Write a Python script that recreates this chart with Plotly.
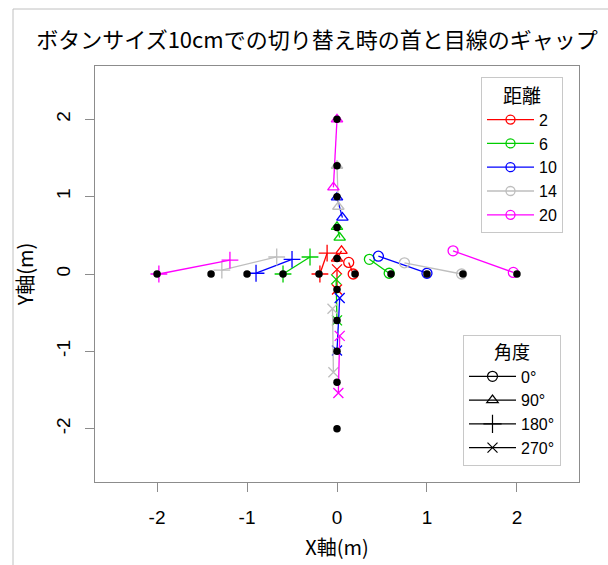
import plotly.graph_objects as go

# ---- data ----
distances = ["2", "6", "10", "14", "20"]
angles = ["0°", "90°", "180°", "270°"]
colors = ["#FF0000", "#00CD00", "#0000FF", "#BEBEBE", "#FF00FF"]
symbols = ["circle-open", "triangle-up-open", "cross-thin-open", "x-thin-open"]

# point A (neck) per distance, ordered by angle 0/90/180/270
a_x = [[0.18, 0.00, -0.19, 0.00],
       [0.58, 0.00, -0.60, 0.00],
       [1.00, 0.00, -0.90, 0.00],
       [1.385, 0.00, -1.28, -0.04],
       [1.96, 0.00, -1.98, 0.015]]
a_y = [[0.00, 0.20, 0.00, -0.20],
       [0.01, 0.61, 0.00, -0.60],
       [0.01, 0.99, 0.01, -0.99],
       [0.00, 1.40, 0.05, -1.27],
       [0.02, 2.00, 0.00, -1.54]]
# point B (gaze)
b_x = [[0.13, 0.05, -0.11, 0.00],
       [0.36, 0.03, -0.30, -0.01],
       [0.46, 0.06, -0.50, 0.03],
       [0.75, 0.015, -0.67, -0.05],
       [1.29, -0.04, -1.19, 0.03]]
b_y = [[0.15, 0.30, 0.27, 0.06],
       [0.19, 0.47, 0.22, -0.07],
       [0.23, 0.73, 0.19, -0.31],
       [0.145, 0.87, 0.22, -0.45],
       [0.30, 1.12, 0.18, -0.80]]

target_x = [-2, -1.4, -1, -0.6, -0.2, 0.2, 0.6, 1, 1.4, 2,
            0, 0, 0, 0, 0, 0, 0, 0, 0, 0]
target_y = [0, 0, 0, 0, 0, 0, 0, 0, 0, 0,
            2, 1.4, 1, 0.6, 0.2, -0.2, -0.6, -1, -1.4, -2]

ticks = [-2, -1, 0, 1, 2]
tick_labels = ["-2", "-1", "0", "1", "2"]

# ---- layout geometry (pixels) ----
W, H = 608, 565
ML, MR, MT, MB = 95, 29, 66, 83
PW, PH = W - ML - MR, H - MT - MB

def px(xp):
    return (xp - ML) / PW

def py(yp):
    return 1 - (yp - MT) / PH

FONT = "Liberation Sans, Arial, Noto Sans CJK JP"
JFONT = "Noto Sans CJK JP, Liberation Sans"

fig = go.Figure()

for i, d in enumerate(distances):
    for j, a in enumerate(angles):
        fig.add_trace(go.Scatter(
            x=[a_x[i][j], b_x[i][j]], y=[a_y[i][j], b_y[i][j]],
            mode="lines+markers",
            line=dict(color=colors[i], width=1.3),
            marker=dict(symbol=symbols[j], color=colors[i], size=10 if j != 2 else 12,
                        line=dict(color=colors[i], width=1.3)),
            showlegend=False, hoverinfo="skip"))

fig.add_trace(go.Scatter(
    x=target_x, y=target_y, mode="markers",
    marker=dict(symbol="circle", color="black", size=7.5),
    showlegend=False, hoverinfo="skip"))

# legend entries: distance
for i, d in enumerate(distances):
    fig.add_trace(go.Scatter(
        x=[None], y=[None], mode="lines+markers", name=d,
        line=dict(color=colors[i], width=1.3),
        marker=dict(symbol="circle-open", color=colors[i], size=9,
                    line=dict(color=colors[i], width=1.3)),
        legend="legend"))

# legend entries: angle
for j, a in enumerate(angles):
    fig.add_trace(go.Scatter(
        x=[None], y=[None], mode="lines+markers", name=a,
        line=dict(color="black", width=1.2),
        marker=dict(symbol=symbols[j], color="black", size=10 if j != 2 else 13,
                    line=dict(color="black", width=1.2)),
        legend="legend2"))

axis_common = dict(
    range=[-2.69, 2.69], showgrid=False, zeroline=False,
    showline=True, linecolor="#8c8c8c", linewidth=1, mirror=True,
    ticks="outside", ticklen=9, tickcolor="#8c8c8c", tickwidth=1,
    tickfont=dict(family=FONT, size=19, color="black"),
    tickvals=ticks, ticktext=tick_labels,
)

fig.update_layout(
    width=W, height=H,
    margin=dict(l=ML, r=MR, t=MT, b=MB, autoexpand=False),
    paper_bgcolor="white", plot_bgcolor="white",
    title=dict(text="ボタンサイズ10cmでの切り替え時の首と目線のギャップ",
               x=317 / W, xref="container", xanchor="center",
               y=1 - 40 / H, yref="container", yanchor="middle",
               font=dict(family=JFONT, size=22, color="black")),
    xaxis=dict(**axis_common, ticklabelstandoff=9,
               title=dict(text="X軸(m)", standoff=14,
                          font=dict(family=JFONT, size=20, color="black"))),
    yaxis=dict(**axis_common, tickangle=-90, ticklabelstandoff=7,
               title=dict(text="Y軸(m)", standoff=14,
                          font=dict(family=JFONT, size=20, color="black"))),
    legend=dict(title=dict(text="距離", side="top center",
                           font=dict(family=JFONT, size=19, color="black")),
                x=px(481), y=py(77), xanchor="left", yanchor="top",
                bordercolor="#c8c8c8", borderwidth=1, bgcolor="white",
                font=dict(family=FONT, size=16, color="black"),
                itemwidth=47, tracegroupgap=0),
    legend2=dict(title=dict(text="角度", side="top center",
                            font=dict(family=JFONT, size=18, color="black")),
                 x=px(463), y=py(335), xanchor="left", yanchor="top",
                 bordercolor="#c8c8c8", borderwidth=1, bgcolor="white",
                 font=dict(family=FONT, size=16, color="black"),
                 itemwidth=47, tracegroupgap=0),
    shapes=[
        dict(type="line", xref="paper", yref="paper",
             x0=px(13), x1=px(13), y0=py(9), y1=py(H + 5),
             line=dict(color="#c0c0c0", width=1)),
        dict(type="line", xref="paper", yref="paper",
             x0=px(13), x1=px(W + 5), y0=py(9), y1=py(9),
             line=dict(color="#c0c0c0", width=1)),
    ],
)

fig.write_html("out.html")
